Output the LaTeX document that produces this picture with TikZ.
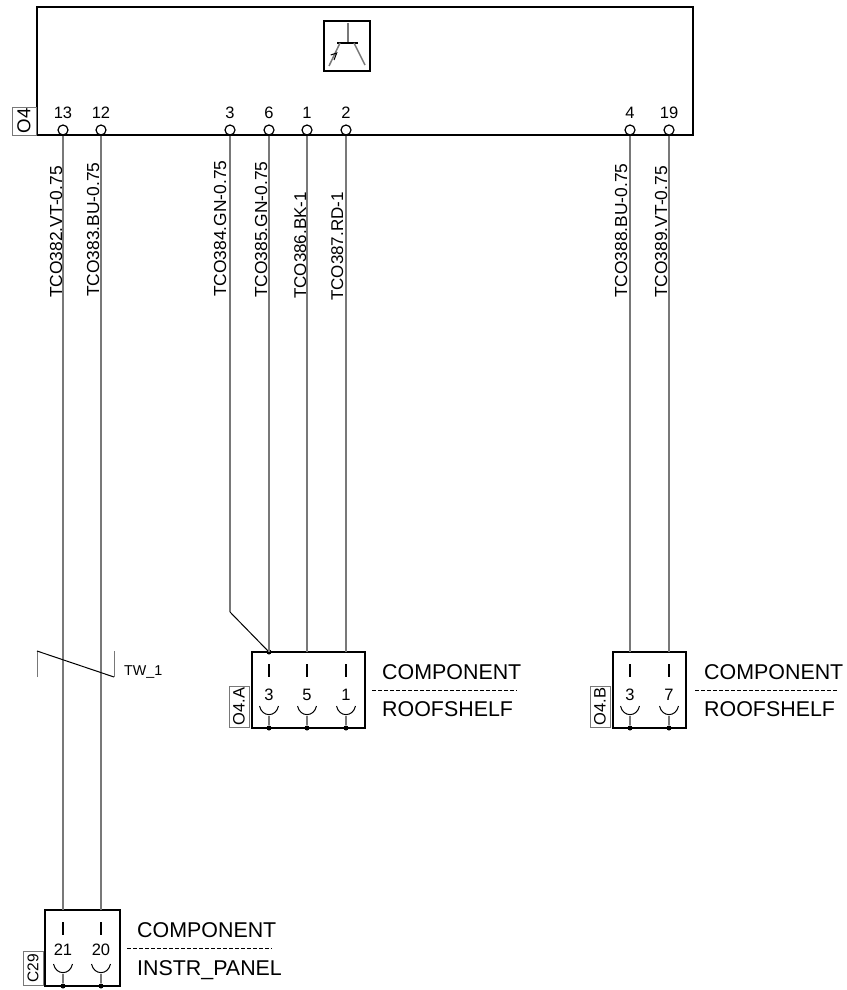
\documentclass[tikz,border=0pt]{standalone}
\usepackage{fontspec}
\setmainfont{Liberation Sans}
\usetikzlibrary{positioning}
\definecolor{wiregray}{HTML}{787878}

\tikzset{
	heavybox/.style = {draw=black, line width=2pt, inner sep=0pt, outer sep=0pt},
	tagbox/.style = {draw=wiregray, line width=1pt, inner sep=0pt, outer sep=0pt, rotate=90},
	pinhole/.style = {draw=black, fill=white, circle, line width=1.2pt, inner sep=0pt, minimum size=10pt},
	pindot/.style = {fill=black, circle, inner sep=0pt, minimum size=5pt},
	wire/.style = {draw=wiregray, line width=1.5pt},
	divider/.style = {line width=1pt, dash pattern=on 3.6pt off 2.4pt},
	pinnum/.style = {anchor=base, inner sep=0pt, font=\fontsize{16.5}{16.5}\selectfont},
	wiretag/.style = {anchor=base west, rotate=90, inner sep=0pt, font=\fontsize{17.4}{17.4}\selectfont},
	comptext/.style = {anchor=base west, inner sep=0pt, font=\fontsize{21.4}{21.4}\selectfont}
}

% one contact of a connector: name, x, top of box
\newcommand{\contactpin}[3]{
	\coordinate (#1) at (#2,#3);
	\node[pindot] (#1b) at (#2,#3+76) {};
	\draw[line width=2pt] (#2,#3+12) -- (#2,#3+25);
	\draw[line width=1pt] (#2-9.5,#3+54) .. controls (#2-7,#3+65.5) and (#2+7,#3+65.5) .. (#2+9.5,#3+54);
	\draw[wire] (#2,#3+64) -- (#1b);
}

\begin{document}
\begin{tikzpicture}
	[x = 1pt, y = -1pt]
	\useasboundingbox (0,0) rectangle (846,990);

	% controller with its symbol
	\node[heavybox, minimum width=656pt, minimum height=128pt] (ctrl) at (365,71) {};
	\node[tagbox, minimum width=28pt, minimum height=24pt, font=\fontsize{18.7}{18.7}\selectfont] (ctrltag) at (24,121) {O4};
	\node[draw=black, line width=1.5pt, minimum width=46pt, minimum height=50pt, inner sep=0pt] (symbol) at (347,46) {};
	\draw[wire] (348,23) -- (348,43);
	\draw[line width=1.2pt] (337,43) -- (358,43);
	\draw[wire] (340,43) -- (329,66);
	\draw[wire] (354,43) -- (365,65);
	\draw[line width=1pt] (330.7,55) -- (336.7,53) -- (334,60);

	\path
	(63,130) node[pinhole](p13) {}
	(101,130) node[pinhole](p12) {}
	(230,130) node[pinhole](p3) {}
	(269,130) node[pinhole](p6) {}
	(307,130) node[pinhole](p1) {}
	(346,130) node[pinhole](p2) {}
	(630,130) node[pinhole](p4) {}
	(669,130) node[pinhole](p19) {};

	\node[pinnum] (n13) at (63,118) {13};
	\node[pinnum] (n12) at (101,118) {12};
	\node[pinnum] (n3) at (230,118) {3};
	\node[pinnum] (n6) at (269,118) {6};
	\node[pinnum] (n1) at (307,118) {1};
	\node[pinnum] (n2) at (346,118) {2};
	\node[pinnum] (n4) at (630,118) {4};
	\node[pinnum] (n19) at (669,118) {19};

	% connector O4.A
	\node[heavybox, minimum width=113pt, minimum height=76pt] (conna) at (308.5,690) {};
	\node[tagbox, minimum width=41pt, minimum height=20pt, font=\fontsize{16.5}{16.5}\selectfont] (connatag) at (239,706.5) {O4.A};
	\contactpin{a3}{269}{652}
	\contactpin{a5}{307}{652}
	\contactpin{a1}{346}{652}
	\node[pindot] (a3t) at (a3) {};
	\node[pinnum] at (269,700) {3};
	\node[pinnum] at (307,700) {5};
	\node[pinnum] at (346,700) {1};
	\node[comptext] (conname) at (382,679) {COMPONENT};
	\node[comptext] (conaplace) at (382,716) {ROOFSHELF};
	\coordinate (conal) at (372,690);
	\coordinate (conar) at (517,690);
	\draw[divider] (conal) -- (conar);

	% connector O4.B
	\node[heavybox, minimum width=73pt, minimum height=76pt] (connb) at (649.5,690) {};
	\node[tagbox, minimum width=41pt, minimum height=20pt, font=\fontsize{16.5}{16.5}\selectfont] (connbtag) at (600,706.5) {O4.B};
	\contactpin{b3}{630}{652}
	\contactpin{b7}{669}{652}
	\node[pinnum] at (630,700) {3};
	\node[pinnum] at (669,700) {7};
	\node[comptext] (conbname) at (704,679) {COMPONENT};
	\node[comptext] (conbplace) at (704,716) {ROOFSHELF};
	\coordinate (conbl) at (695,690);
	\coordinate (conbr) at (838,690);
	\draw[divider] (conbl) -- (conbr);

	% connector C29
	\node[heavybox, minimum width=75pt, minimum height=76pt] (connc) at (82.5,948) {};
	\node[tagbox, minimum width=34pt, minimum height=20pt, font=\fontsize{15.5}{15.5}\selectfont] (conctag) at (33,968.5) {C29};
	\contactpin{c21}{63}{910}
	\contactpin{c20}{101}{910}
	\node[pinnum] at (63,955) {21};
	\node[pinnum] at (101,955) {20};
	\node[comptext] (concname) at (137,937) {COMPONENT};
	\node[comptext] (concplace) at (137,975) {INSTR\_PANEL};
	\coordinate (concl) at (127,948);
	\coordinate (concr) at (272,948);
	\draw[divider] (concl) -- (concr);

	% wires
	\coordinate (bend) at (230,612);
	\draw[wire] (p13.south) -- (c21);
	\draw[wire] (p12.south) -- (c20);
	\draw[wire] (p3.south) -- (bend);
	\draw[line width=1pt] (bend) -- (a3);
	\draw[wire] (p6.south) -- (a3);
	\draw[wire] (p1.south) -- (a5);
	\draw[wire] (p2.south) -- (a1);
	\draw[wire] (p4.south) -- (b3);
	\draw[wire] (p19.south) -- (b7);

	\node[wiretag] (t382) at (62,298) {TCO382.VT-0.75};
	\node[wiretag] (t383) at (99,297) {TCO383.BU-0.75};
	\node[wiretag] (t384) at (226,297) {TCO384.GN-0.75};
	\node[wiretag] (t385) at (267,298) {TCO385.GN-0.75};
	\node[wiretag, font=\fontsize{17}{17}\selectfont] (t386) at (306,299) {TCO386.BK-1};
	\node[wiretag, font=\fontsize{17}{17}\selectfont] (t387) at (343,301) {TCO387.RD-1};
	\node[wiretag] (t388) at (627,298) {TCO388.BU-0.75};
	\node[wiretag] (t389) at (667,298) {TCO389.VT-0.75};

	% twist mark
	\coordinate (twa) at (37,677);
	\coordinate (twb) at (37,651);
	\coordinate (twc) at (114,677);
	\coordinate (twd) at (114,651);
	\draw[wire, line width=1pt] (twa) -- (twb);
	\draw[line width=1pt] (twb) -- (twc);
	\draw[wire, line width=1pt] (twc) -- (twd);
	\node[anchor=base west, inner sep=0pt, font=\fontsize{14.3}{14.3}\selectfont] (tw) at (124,675) {TW\_1};
\end{tikzpicture}
\end{document}
